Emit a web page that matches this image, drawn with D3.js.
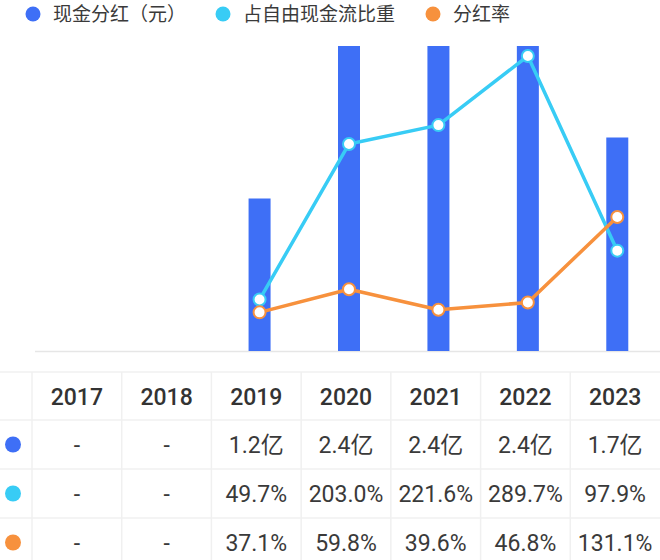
<!DOCTYPE html>
<html><head><meta charset="utf-8">
<script src="https://cdn.jsdelivr.net/npm/d3@7"></script>
<style>html,body{margin:0;padding:0;background:#fff;}svg{display:block;font-family:Roboto,"Noto Sans CJK SC",sans-serif;}</style>
</head><body><svg id="c" width="660" height="560"></svg>
<script>
const years = ["2017","2018","2019","2020","2021","2022","2023"];
const dividend = [null, null, 1.2, 2.4, 2.4, 2.4, 1.68]; // 亿元
const fcfShare = [null, null, 49.7, 203.0, 221.6, 289.7, 97.9]; // %
const payout = [null, null, 37.1, 59.8, 39.6, 46.8, 131.1]; // %
const seriesNames = ["现金分红（元）", "占自由现金流比重", "分红率"];
const colors = ["#3E6FF6", "#38CCF5", "#F7913D"];

const svg = d3.select("#c");
const x = d3.scaleBand().domain(years).range([36, 662]);
const yBar = d3.scaleLinear().domain([0, d3.max(dividend)]).range([351, 46]);
const yPct = d3.scaleLinear().domain([0, d3.max(fcfShare)]).range([350, 56]);

// legend
const legX = [33, 223, 433];
seriesNames.forEach((n, i) => {
  svg.append("circle").attr("cx", legX[i]).attr("cy", 14).attr("r", 7.5).attr("fill", colors[i]);
  svg.append("text").attr("x", legX[i] + 20).attr("y", 14).attr("dy", "0.36em")
    .attr("font-size", 19).attr("fill", "#3a3a3a").text(n);
});

// baseline
svg.append("line").attr("x1", 35).attr("x2", 660).attr("y1", 351.5).attr("y2", 351.5)
  .attr("stroke", "#e6e6e6").attr("stroke-width", 1.5);

// bars
const bw = 22;
svg.append("g").selectAll("rect").data(years.map((y, i) => ({y, v: dividend[i]})).filter(d => d.v != null))
  .join("rect")
  .attr("x", d => x(d.y) + x.bandwidth() / 2 - bw / 2)
  .attr("width", bw)
  .attr("y", d => yBar(d.v))
  .attr("height", d => yBar(0) - yBar(d.v))
  .attr("fill", colors[0]);

// lines
function drawLine(vals, color) {
  const pts = years.map((y, i) => ({y, v: vals[i]})).filter(d => d.v != null);
  const line = d3.line().x(d => x(d.y) + x.bandwidth() / 2).y(d => yPct(d.v));
  svg.append("path").datum(pts).attr("d", line).attr("fill", "none")
    .attr("stroke", color).attr("stroke-width", 3.5).attr("stroke-linejoin", "round");
  return pts;
}
const p1 = drawLine(fcfShare, colors[1]);
const p2 = drawLine(payout, colors[2]);
[[p1, colors[1]], [p2, colors[2]]].forEach(([pts, c]) => {
  svg.append("g").selectAll("circle").data(pts).join("circle")
    .attr("cx", d => x(d.y) + x.bandwidth() / 2).attr("cy", d => yPct(d.v))
    .attr("r", 6).attr("fill", "#fff").attr("stroke", c).attr("stroke-width", 2);
});

// table
const tx = d3.scaleBand().domain(years).range([32, 660]);
const rowTops = [372, 420, 469, 518, 567];
const grid = svg.append("g").attr("stroke", "#f0f0f0").attr("stroke-width", 1.5);
rowTops.forEach(t => grid.append("line").attr("x1", 0).attr("x2", 660).attr("y1", t).attr("y2", t));
years.forEach(y => grid.append("line").attr("x1", tx(y)).attr("x2", tx(y)).attr("y1", 372).attr("y2", 560));

years.forEach(y => {
  svg.append("text").attr("x", tx(y) + tx.bandwidth() / 2).attr("y", 397).attr("dy", "0.36em")
    .attr("text-anchor", "middle").attr("font-size", 23).attr("font-weight", 500).attr("fill", "#333").text(y);
});
const fmt = d3.format(".1f");
const rows = [
  dividend.map(v => v == null ? "-" : fmt(v) + "亿"),
  fcfShare.map(v => v == null ? "-" : fmt(v) + "%"),
  payout.map(v => v == null ? "-" : fmt(v) + "%")
];
rows.forEach((r, ri) => {
  const cy = (rowTops[ri + 1] + rowTops[ri + 2]) / 2;
  svg.append("circle").attr("cx", 13).attr("cy", cy).attr("r", 8).attr("fill", colors[ri]);
  r.forEach((t, ci) => {
    svg.append("text").attr("x", tx(years[ci]) + tx.bandwidth() / 2).attr("y", cy).attr("dy", "0.36em")
      .attr("text-anchor", "middle").attr("font-size", 23).attr("fill", "#3a3a3a").text(t);
  });
});
</script></body></html>
